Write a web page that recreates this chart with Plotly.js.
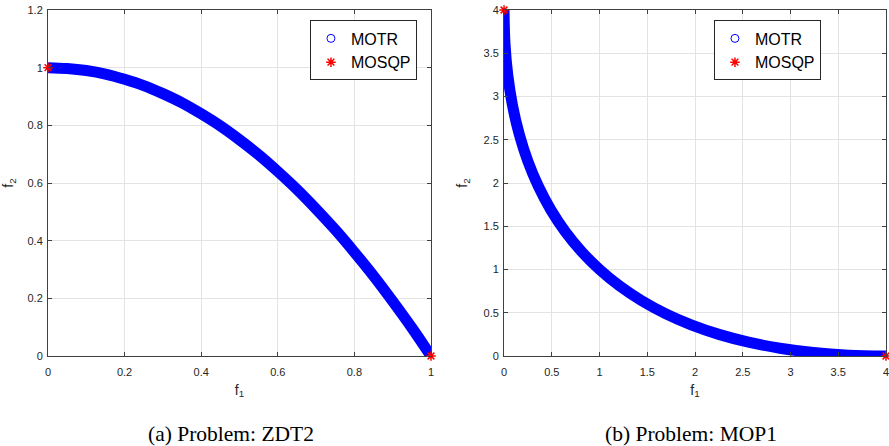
<!DOCTYPE html>
<html>
<head>
<meta charset="utf-8">
<script src="https://cdn.plot.ly/plotly-3.0.1.min.js"></script>
<style>html,body{margin:0;padding:0;background:#fff;}#chart{width:889px;height:446px;}</style>
</head>
<body>
<div id="chart"></div>
<script>
// ZDT2 front
const zdt2_f1 = [0, 0.05, 0.1, 0.15, 0.2, 0.25, 0.3, 0.35, 0.4, 0.45, 0.5, 0.55, 0.6, 0.65, 0.7, 0.75, 0.8, 0.85, 0.9, 0.95, 1];
const zdt2_f2 = [1, 0.997, 0.99, 0.978, 0.96, 0.938, 0.91, 0.878, 0.84, 0.798, 0.75, 0.698, 0.64, 0.578, 0.51, 0.438, 0.36, 0.278, 0.19, 0.098, 0];
const zdt2_sqp_f1 = [0, 1];
const zdt2_sqp_f2 = [1, 0];

// MOP1 front
const mop1_f1 = [0, 0.01, 0.04, 0.09, 0.16, 0.25, 0.36, 0.49, 0.64, 0.81, 1, 1.21, 1.44, 1.69, 1.96, 2.25, 2.56, 2.89, 3.24, 3.61, 4];
const mop1_f2 = [4, 3.61, 3.24, 2.89, 2.56, 2.25, 1.96, 1.69, 1.44, 1.21, 1, 0.81, 0.64, 0.49, 0.36, 0.25, 0.16, 0.09, 0.04, 0.01, 0];
const mop1_sqp_f1 = [0, 4];
const mop1_sqp_f2 = [4, 0];

const zdt2_xticks = [0, 0.2, 0.4, 0.6, 0.8, 1];
const zdt2_yticks = [0, 0.2, 0.4, 0.6, 0.8, 1, 1.2];
const mop1_xticks = [0, 0.5, 1, 1.5, 2, 2.5, 3, 3.5, 4];
const mop1_yticks = [0, 0.5, 1, 1.5, 2, 2.5, 3, 3.5, 4];

const captions = ['(a) Problem: ZDT2', '(b) Problem: MOP1'];
const seriesNames = ['MOTR', 'MOSQP'];

const BLUE = '#0000ff', RED = '#ff0000';

function band(x, y, xa, ya) {
  return {x: x, y: y, xaxis: xa, yaxis: ya, type: 'scatter', mode: 'lines',
    line: {color: BLUE, width: 11, shape: 'spline', smoothing: 1}, showlegend: false, hoverinfo: 'skip'};
}
function motr(x, y, xa, ya, lg) {
  return {x: x, y: y, xaxis: xa, yaxis: ya, type: 'scatter', mode: 'markers', name: seriesNames[0],
    legend: lg, cliponaxis: true,
    marker: {symbol: 'circle-open', size: 8, color: BLUE, line: {width: 1, color: BLUE}}};
}
function sqp(x, y, xa, ya, lg) {
  return {x: x, y: y, xaxis: xa, yaxis: ya, type: 'scatter', mode: 'markers', name: seriesNames[1],
    legend: lg, cliponaxis: false,
    marker: {symbol: 'asterisk-open', size: 8, color: RED, line: {width: 1.5, color: RED}}};
}

const data = [
  band(zdt2_f1, zdt2_f2, 'x', 'y'),
  motr(zdt2_f1, zdt2_f2, 'x', 'y', 'legend'),
  sqp(zdt2_sqp_f1, zdt2_sqp_f2, 'x', 'y', 'legend'),
  band(mop1_f1, mop1_f2, 'x2', 'y2'),
  motr(mop1_f1, mop1_f2, 'x2', 'y2', 'legend2'),
  sqp(mop1_sqp_f1, mop1_sqp_f2, 'x2', 'y2', 'legend2')
];

const tickFont = {family: 'Liberation Sans, Arial, sans-serif', size: 11, color: '#262626'};
function axis(domain, ticks, range, title, anchor, standoff, labelOff) {
  return {domain: domain, range: range, tickvals: ticks, ticktext: ticks.map(String),
    showgrid: true, gridcolor: '#e3e3e3', gridwidth: 1, zeroline: false,
    showline: true, linecolor: '#404040', linewidth: 1, mirror: 'ticks',
    ticks: 'inside', ticklen: 4, tickcolor: '#404040', tickfont: tickFont,
    ticklabelstandoff: labelOff, ticklabeloverflow: 'allow',
    anchor: anchor, fixedrange: true,
    title: {text: title, font: {family: 'Liberation Sans, Arial, sans-serif', size: 14, color: '#262626'}, standoff: standoff}};
}

const legendCommon = {yref: 'paper', xref: 'paper', xanchor: 'left', yanchor: 'top', bgcolor: '#ffffff',
  bordercolor: '#262626', borderwidth: 1, font: {family: 'Liberation Sans, Arial, sans-serif', size: 16, color: '#000'},
  itemclick: false};

const capFont = {family: 'Liberation Serif, Times New Roman, serif', size: 21.5, color: '#000'};

const layout = {
  width: 889, height: 446,
  margin: {l: 48, r: 3, t: 10, b: 90},
  paper_bgcolor: '#ffffff', plot_bgcolor: '#ffffff',
  showlegend: true,
  xaxis: axis([0, 0.457], zdt2_xticks, [0, 1], 'f<sub>1</sub>', 'y', 7, 6),
  yaxis: axis([0, 1], zdt2_yticks, [0, 1.2], 'f<sub>2</sub>', 'x', 12, 2),
  xaxis2: axis([0.5442, 1], mop1_xticks, [0, 4], 'f<sub>1</sub>', 'y2', 7, 6),
  yaxis2: axis([0, 1], mop1_yticks, [0, 4], 'f<sub>2</sub>', 'x2', 12, 2),
  legend: Object.assign({x: 0.3126, y: 0.9697}, legendCommon),
  legend2: Object.assign({x: 0.7947, y: 0.9697}, legendCommon),
  annotations: [
    {text: captions[0], xref: 'paper', yref: 'paper', x: 0.2184, y: -0.2254, xanchor: 'center', yanchor: 'middle', showarrow: false, font: capFont},
    {text: captions[1], xref: 'paper', yref: 'paper', x: 0.767, y: -0.2254, xanchor: 'center', yanchor: 'middle', showarrow: false, font: capFont}
  ]
};

Plotly.newPlot('chart', data, layout, {displayModeBar: false, staticPlot: true});
</script>
</body>
</html>
